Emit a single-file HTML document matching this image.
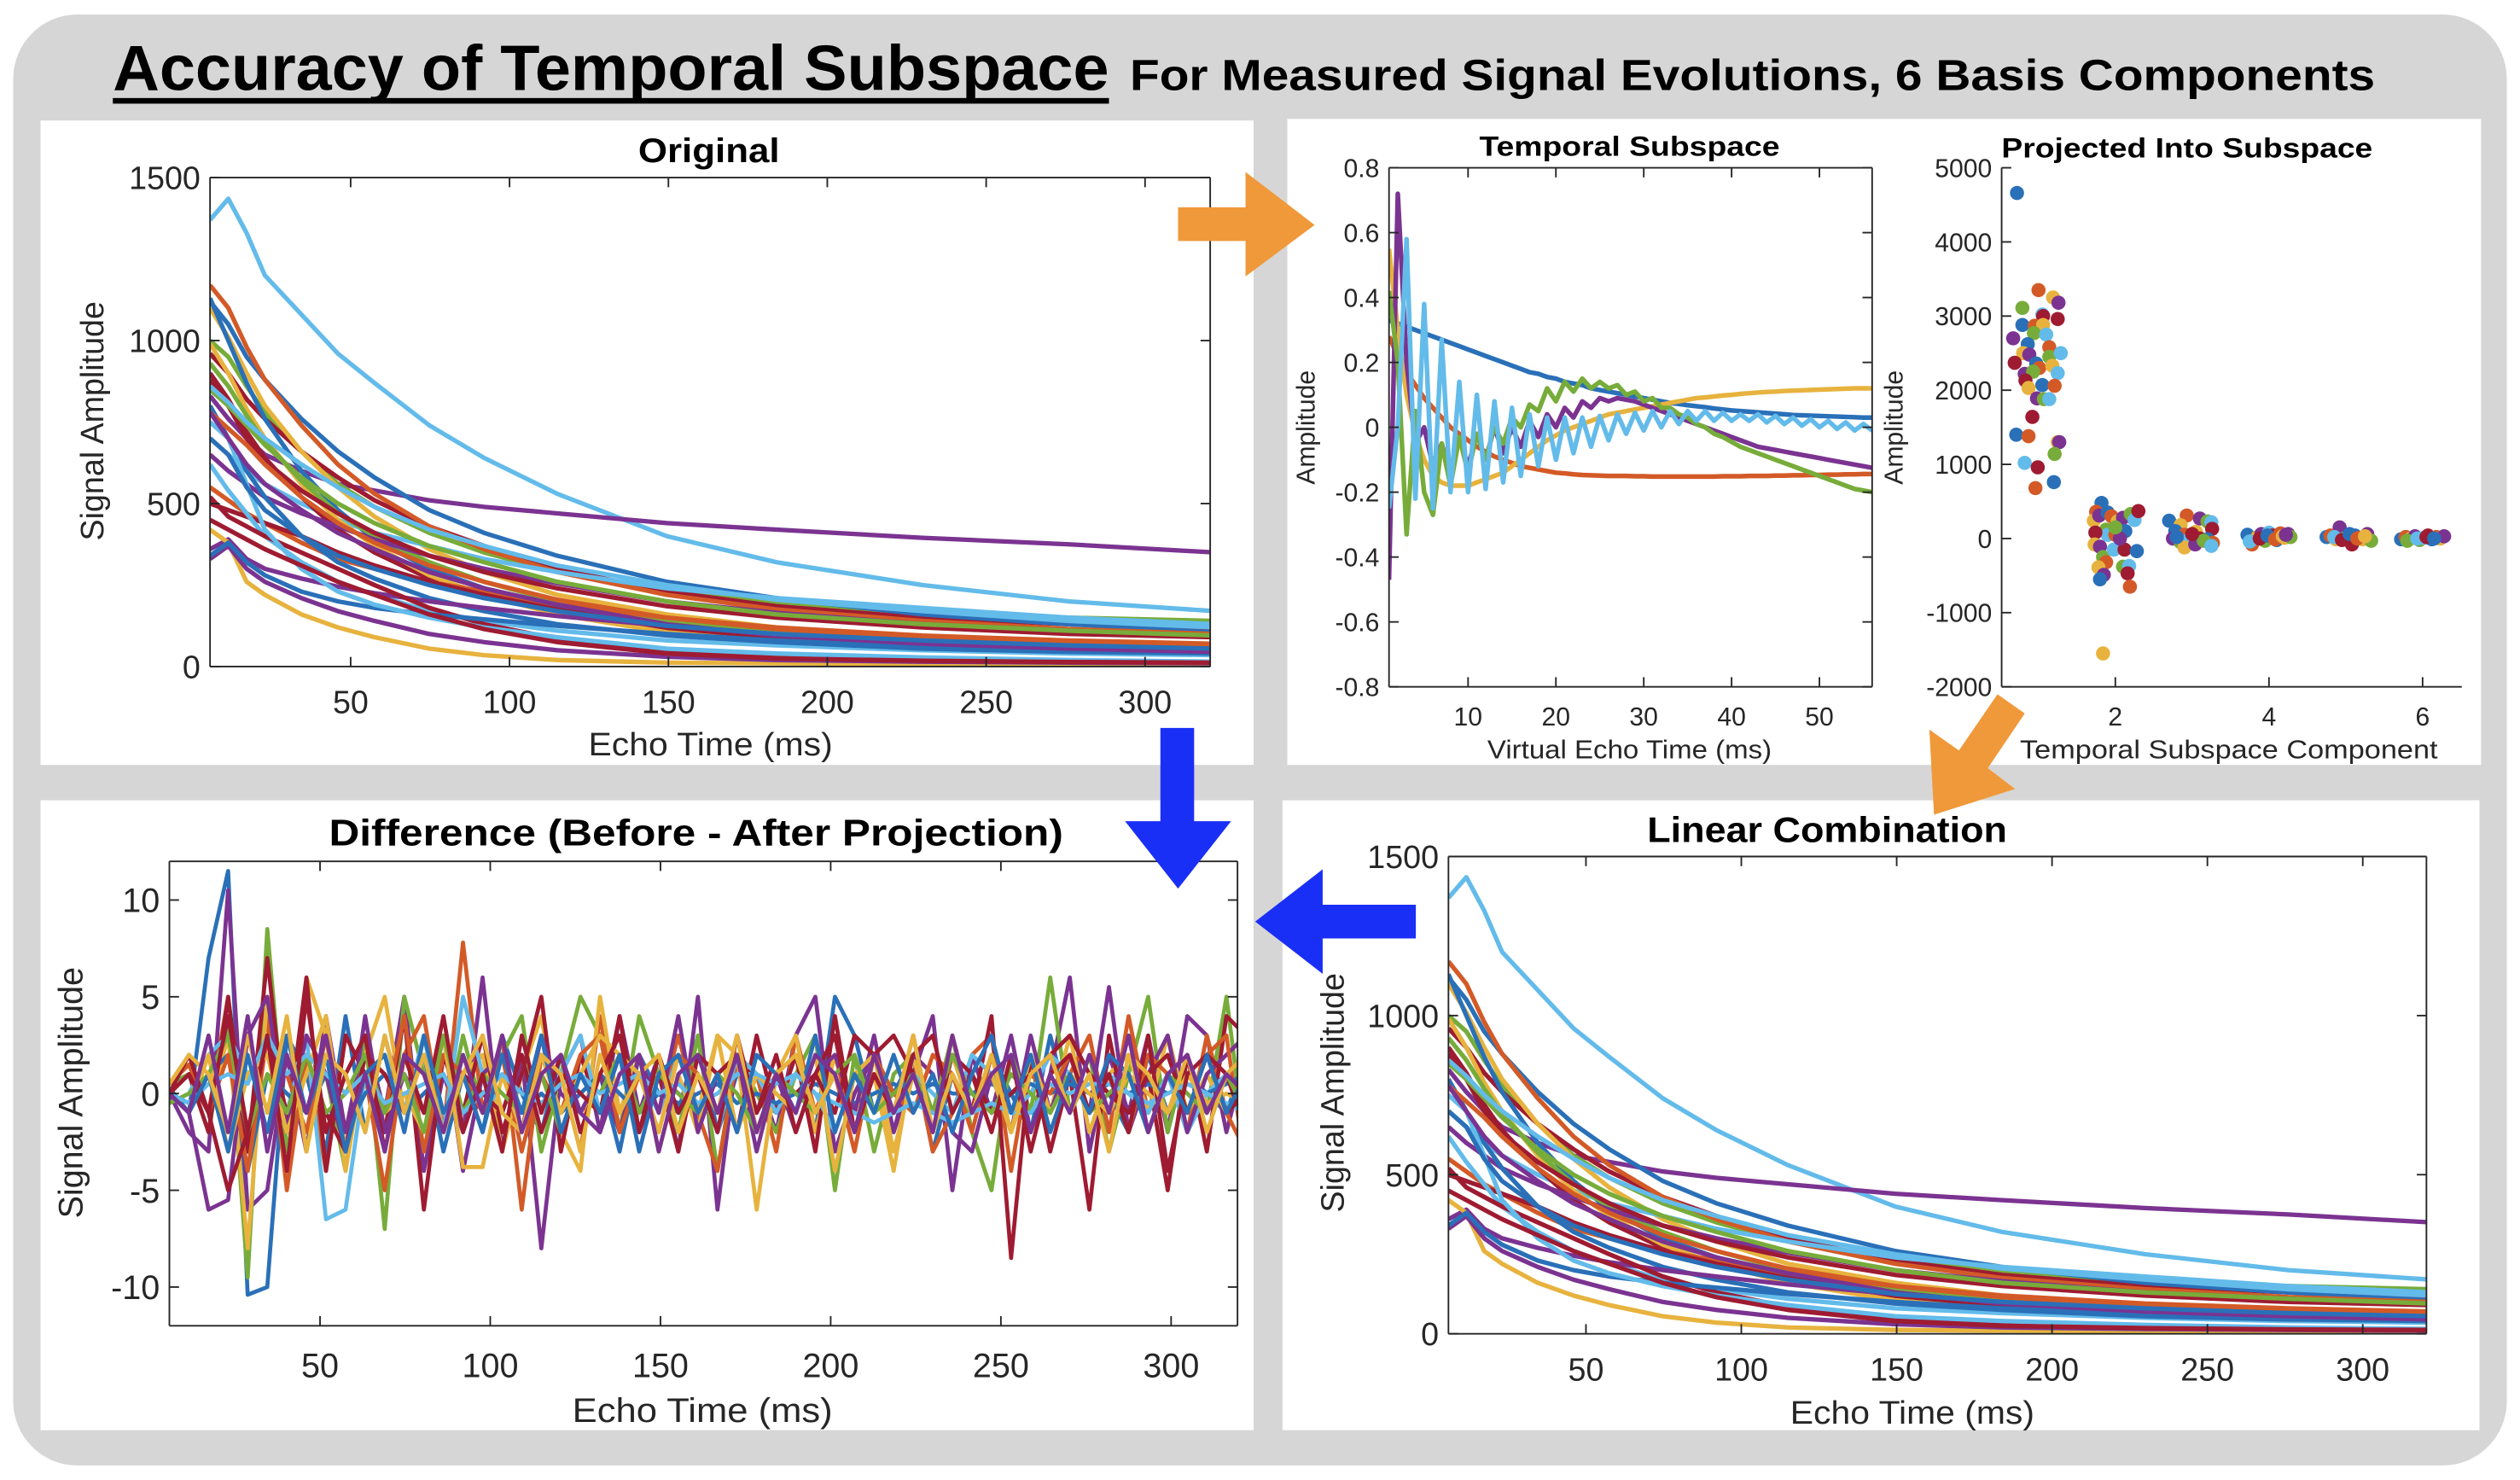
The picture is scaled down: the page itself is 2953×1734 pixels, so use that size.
<!DOCTYPE html>
<html><head><meta charset="utf-8"><title>Accuracy of Temporal Subspace</title>
<style>
html,body{margin:0;padding:0;background:#fff;}
svg{display:block;}
text{font-family:"Liberation Sans",sans-serif;}
</style></head>
<body>
<svg id="root" width="2953" height="1734" viewBox="0 0 1568 921" xmlns="http://www.w3.org/2000/svg">
<rect x="0" y="0" width="1568" height="921" fill="#fff"/>
<rect x="8" y="9" width="1552" height="903" rx="40" ry="40" fill="#d6d6d6"/>
<text x="70" y="56" font-size="40" font-weight="bold" textLength="620" lengthAdjust="spacingAndGlyphs" fill="#000">Accuracy of Temporal Subspace</text>
<rect x="70" y="61" width="620" height="3.5" fill="#000"/>
<text x="703" y="56" font-size="27" font-weight="bold" textLength="775" lengthAdjust="spacingAndGlyphs" fill="#000">For Measured Signal Evolutions, 6 Basis Components</text>
<rect x="25" y="75" width="755" height="401" fill="#fff"/>
<rect x="801" y="74" width="743" height="402" fill="#fff"/>
<rect x="25" y="498" width="755" height="392" fill="#fff"/>
<rect x="798" y="498" width="745" height="392" fill="#fff"/>
<g id="plots"></g>
<polygon points="733,129 775,129 775,107 818,140 775,172 775,150 733,150" fill="#f0993a"/>
<polygon points="1243,432 1260,444 1237,478 1254,491 1203.5,507 1200.6,454 1219,467" fill="#f0993a"/>
<polygon points="881,563 823,563 823,541 781,573.5 823,606 823,584 881,584" fill="#1a2ff5"/>
<polygon points="722,453 743,453 743,511 766,511 733,553 700,511 722,511" fill="#1a2ff5"/>
</svg>
<script>
// ---------- data ----------
const colorsM = ["#2a70b8","#d35a27","#e7b33e","#7b3391","#77ac3a","#63bbea","#9e1b31"];
const sampleTimes = [5.75,11.5,17.25,23,34.5,46,57.5,74.75,92,115,149.5,184,230,276,322];
const signalColors = [5,3,4,6,0,1,2,0,5,6,2,4,3,1,6,5,0,3,2,3,6,0,5,6,4,5,1,3,0,6];
const signals = [
[1370,1435,1330,1200,1080,960,870,740,640,530,400,320,250,200,170],
[830,760,700,650,600,560,540,510,490,470,440,420,395,375,350],
[1000,950,860,780,660,560,490,410,350,290,230,195,165,150,140],
[960,900,820,760,660,580,510,430,370,300,230,185,150,130,115],
[1120,1050,950,880,760,660,580,480,410,340,260,210,160,130,105],
[1170,1100,980,880,740,620,530,430,360,290,220,175,140,115,100],
[1100,1010,900,800,660,550,460,360,290,220,160,120,90,75,65],
[1130,1000,870,760,600,480,390,300,240,180,120,90,65,55,45],
[700,650,600,560,500,450,410,370,330,290,240,210,180,150,130],
[900,820,720,640,520,420,350,270,220,165,110,80,60,50,40],
[990,900,790,700,560,450,370,280,220,160,105,75,55,45,40],
[930,860,770,690,570,470,400,320,260,200,140,105,80,65,55],
[650,600,560,520,470,430,390,340,300,255,200,165,130,110,90],
[550,510,470,440,380,330,300,260,230,190,150,120,95,80,70],
[500,480,460,440,400,350,310,260,220,175,120,90,65,50,45],
[620,540,470,400,320,260,220,170,140,110,80,65,50,40,35],
[800,700,600,520,400,320,270,210,170,130,95,75,55,45,40],
[360,390,330,300,270,245,225,200,180,155,125,100,80,65,55],
[420,380,260,220,160,120,90,55,35,20,12,10,8,8,8],
[330,370,300,260,210,170,140,100,75,50,30,20,15,12,10],
[520,460,430,400,350,300,250,180,130,85,45,28,18,15,12],
[340,380,320,280,230,200,180,160,145,125,100,80,60,50,40],
[750,700,560,420,300,230,190,150,120,90,55,40,28,20,15],
[880,800,700,630,540,470,410,340,290,240,185,150,120,100,90],
[850,800,740,680,580,500,440,370,320,260,200,160,130,110,95],
[860,810,750,700,620,550,490,420,370,310,250,205,170,140,120],
[780,730,680,620,520,440,380,310,260,205,150,115,90,75,65],
[780,700,620,560,480,410,360,290,240,190,130,95,70,55,45],
[700,650,550,480,400,340,300,250,210,170,125,100,80,65,55],
[450,420,390,360,310,260,220,160,115,75,40,25,18,14,12]
];
const signalTicksX = [50,100,150,200,250,300];
const signalTicksY = [0,500,1000,1500];

const basisIndex = [1,2,3,4,5,6,7,8,9,10,11,12,13,14,15,16,17,18,19,20,21,22,23,24,25,26,27,28,29,30,31,32,33,34,35,36,37,38,39,40,41,42,43,44,45,46,47,48,49,50,51,52,53,54,55,56];
const basisBlue = [0.33,0.32,0.31,0.30,0.29,0.28,0.27,0.26,0.25,0.24,0.23,0.22,0.21,0.20,0.19,0.18,0.17,0.165,0.155,0.15,0.14,0.135,0.13,0.12,0.115,0.11,0.105,0.10,0.095,0.09,0.085,0.08,0.075,0.072,0.068,0.065,0.062,0.058,0.055,0.052,0.05,0.048,0.046,0.044,0.042,0.04,0.038,0.037,0.036,0.035,0.034,0.033,0.032,0.031,0.03,0.03];
const basisOrange = [0.28,0.22,0.17,0.13,0.09,0.06,0.03,0.0,-0.02,-0.04,-0.06,-0.075,-0.09,-0.10,-0.11,-0.12,-0.125,-0.13,-0.135,-0.14,-0.142,-0.145,-0.147,-0.148,-0.149,-0.15,-0.15,-0.15,-0.151,-0.151,-0.152,-0.152,-0.152,-0.152,-0.152,-0.152,-0.152,-0.152,-0.151,-0.151,-0.151,-0.15,-0.15,-0.15,-0.149,-0.149,-0.148,-0.148,-0.147,-0.147,-0.146,-0.146,-0.145,-0.145,-0.144,-0.144];
const basisYellow = [0.55,0.3,0.1,-0.02,-0.1,-0.15,-0.17,-0.18,-0.18,-0.18,-0.17,-0.16,-0.15,-0.14,-0.12,-0.1,-0.08,-0.06,-0.04,-0.025,-0.01,0.0,0.01,0.02,0.03,0.04,0.045,0.05,0.055,0.06,0.065,0.07,0.075,0.08,0.085,0.09,0.092,0.095,0.098,0.1,0.103,0.105,0.107,0.109,0.11,0.112,0.113,0.114,0.115,0.116,0.117,0.118,0.119,0.12,0.12,0.12];
const basisPurple = [-0.47,0.72,0.2,-0.05,0.0,-0.12,-0.05,-0.15,-0.03,-0.12,-0.02,-0.1,0.0,-0.08,0.0,-0.06,0.02,-0.03,0.04,0.0,0.06,0.03,0.08,0.06,0.09,0.08,0.09,0.085,0.08,0.07,0.06,0.05,0.04,0.03,0.02,0.01,0.0,-0.01,-0.02,-0.03,-0.04,-0.05,-0.06,-0.065,-0.07,-0.075,-0.08,-0.085,-0.09,-0.095,-0.1,-0.105,-0.11,-0.115,-0.12,-0.125];
const basisGreen = [0.42,0.2,-0.33,0.05,-0.2,-0.27,-0.05,-0.18,-0.03,-0.14,-0.02,-0.1,0.0,-0.05,0.03,0.0,0.07,0.05,0.12,0.08,0.14,0.11,0.15,0.12,0.14,0.12,0.13,0.1,0.11,0.08,0.09,0.06,0.06,0.04,0.03,0.01,0.0,-0.02,-0.03,-0.045,-0.06,-0.07,-0.08,-0.09,-0.1,-0.11,-0.12,-0.13,-0.14,-0.15,-0.16,-0.17,-0.18,-0.19,-0.195,-0.2];
const basisLightBlue = [-0.25,0.0,0.58,-0.22,0.38,-0.25,0.27,-0.2,0.14,-0.2,0.1,-0.19,0.08,-0.17,0.06,-0.15,0.04,-0.12,0.03,-0.1,0.03,-0.08,0.03,-0.06,0.035,-0.04,0.04,-0.02,0.045,-0.01,0.05,0.0,0.05,0.01,0.05,0.02,0.05,0.02,0.045,0.02,0.04,0.02,0.04,0.015,0.035,0.01,0.03,0.005,0.025,0.0,0.02,-0.005,0.015,-0.01,0.01,-0.01];
const basisTicksX = [10,20,30,40,50];
const basisTicksY = [-0.8,-0.6,-0.4,-0.2,0,0.2,0.4,0.6,0.8];

const comp1X = [0.72,1.0,1.19,1.26,0.79,1.05,1.06,0.79,0.95,1.06,0.67,0.94,1.1,1.25,0.86,1.14,0.8,0.88,1.14,1.29,0.69,0.97,1.01,1.18,0.82,0.93,1.25,0.83,1.05,1.21,0.87,0.98,1.07,1.14,0.92,0.71,0.87,1.25,1.27,1.21,0.82,0.99,1.2,0.96];
const comp1Y = [4660,3350,3250,3180,3110,3020,3000,2880,2870,2880,2700,2770,2750,2960,2620,2580,2500,2480,2450,2500,2370,2360,2300,2330,2220,2250,2230,2130,2070,2060,2030,1890,1880,1880,1640,1400,1380,1300,1300,1140,1020,960,760,680];
const comp2X = [1.82,1.75,1.72,1.79,1.88,1.9,1.74,1.9,1.95,2.03,2.1,2.2,2.25,2.3,2.13,2.0,1.73,1.8,1.84,1.98,2.12,2.28,1.88,1.78,1.85,2.1,2.18,2.16,1.8,2.19,1.84,2.06,2.0];
const comp2Y = [480,360,240,310,120,50,80,350,300,230,280,330,250,370,100,50,-80,-110,-250,-150,-150,-170,-320,-390,-490,-380,-370,-470,-550,-650,-1550,0,150];
const comp3X = [2.7,2.93,2.85,3.1,3.2,3.25,3.26,2.78,2.9,3.05,2.75,2.85,2.95,3.1,3.2,3.27,2.9,3.04,3.15,3.25,3.0,2.8];
const comp3Y = [240,310,180,270,230,220,130,100,50,90,0,-50,-20,0,-10,-60,-120,-80,-30,-100,60,20];
const comp4X = [3.72,3.78,3.85,3.9,3.95,4.0,4.05,4.1,4.15,4.2,4.25,4.28,3.75,3.88,3.98,4.08,4.18,4.22];
const comp4Y = [50,-80,20,60,-30,80,40,-20,70,10,60,20,-40,0,40,-10,30,50];
const comp5X = [4.75,4.8,4.87,4.92,4.98,5.03,5.08,5.12,5.18,5.22,5.28,5.33,4.85,4.95,5.05,5.15,5.25];
const comp5Y = [20,40,-10,150,0,30,-80,40,10,-10,60,-30,20,-20,60,0,30];
const comp6X = [5.72,5.78,5.85,5.9,5.96,6.02,6.07,6.12,6.18,6.23,6.28,5.8,5.93,6.05,6.15];
const comp6Y = [-10,20,0,30,-20,10,40,-10,20,0,30,-30,0,20,0];
const scatTicksX = [2,4,6];
const scatTicksY = [-2000,-1000,0,1000,2000,3000,4000,5000];

const echoTimes = [5.75,11.5,17.25,23,28.75,34.5,40.25,46,51.75,57.5,63.25,69,74.75,80.5,86.25,92,97.75,103.5,109.25,115,120.75,126.5,132.25,138,143.75,149.5,155.25,161,166.75,172.5,178.25,184,189.75,195.5,201.25,207,212.75,218.5,224.25,230,235.75,241.5,247.25,253,258.75,264.5,270.25,276,281.75,287.5,293.25,299,304.75,310.5,316.25,322];
const diffColors = [0,3,4,1,2,6,5,0,3,1,2,6,4,5,6,0,2,3];
const diffs = [
[0.3,-1,7,11.5,-10.4,-10,3,1,-3,4,-2,3,-1,2,-3,1,-2,3,0,-2,2,-1,1,-3,2,0,-1,3,-2,1,0,-1,2,-2,5,3,-1,0,2,-3,1,-1,2,0,-2,3,-1,1,0,-2,2,-1,1,0,-1,2],
[0,-2,-3,10.5,-6,-5,2,-3,4,-2,3,-1,5,-4,1,-2,6,-3,2,-8,1,3,-2,4,-1,2,-3,5,-6,2,1,-2,3,5,-3,0,2,-2,1,4,-5,2,-1,3,-2,1,6,-3,2,-1,3,-2,4,3,-2,2],
[0.5,1,-2,4,-9.5,8.5,-3,2,1,-4,3,-7,5,1,-2,3,-1,2,4,-3,1,5,3,-2,4,1,-2,3,-4,2,0,-2,1,3,-5,2,-3,1,2,-1,3,-2,-5,2,-1,6,-1,2,-3,1,5,-2,2,-1,5,-3],
[0,1,-1,5,-3,4,-5,2,-4,3,1,-5,2,4,-2,7.8,-1,3,-6,2,1,-3,4,-2,2,-1,3,-1,-4,2,1,-3,3,-1,2,-2,1,-1,2,-3,-1,2,3,-4,2,-1,1,3,-2,4,-1,1,-2,3,-1,-3],
[0.5,1.5,-1,3,-8,5,-2,6,3,-4,2,5,-1,3,-2,1,2,-3,1,4,-2,-4,5,-1,2,-3,1,-2,3,2,-6,1,3,-2,2,-1,1,-4,2,-2,3,-1,1,-2,2,-1,3,-2,1,2,-1,3,-1,1,-1,1],
[0,1,-2,5,-3,7,-2,6,-4,3,1,-2,4,-6,2,-1,3,-2,1,5,-3,2,-1,4,-2,1,-3,2,1,-2,3,-1,2,-3,4,-2,1,-1,3,-2,2,-1,4,-8.5,2,-3,1,-6,3,-2,1,-5,2,-3,4,3],
[-0.5,0,2,3,1,2,-1,3,-6.5,-6,1,2,-1,3,-2,5,1,-1,2,-2,1,3,-1,2,1,-1,2,1,-2,2,1,-1,1,0,-2,1,2,-1,1,0,-1,2,1,-1,0,2,1,-1,1,0,-1,1,-2,0,1,-1],
[0,-0.5,1,2,-4,1,0,-1,1,-2,0,1,-1,0,1,-1,0,1,-1,0,-1,0,1,0,-1,0,-0.5,0,0.5,-0.5,0,-0.5,0,0.5,0,-0.5,0,0.5,0,0.5,0,0,0.5,0,0.5,0,0.5,0,0.5,0,0.5,0,0.5,0,0.5,1],
[0,-1,-6,-5.5,3,5,-2,3,1,-3,4,-2,1,-1,3,-4,1,2,-2,3,0,-1,1,-2,2,-1,4,-2,1,2,-3,1,-2,1,2,-1,3,-2,2,1,-2,-3,1,-2,3,-1,2,-1,5.5,-2,1,3,-2,1,2,3],
[0.5,1.5,-1,2,-4,3,1,-2,3,-3,2,-1,4,-3,2,1,-1,2,-3,1,-1,2,3,-2,1,-2,2,1,-1,3,-2,1,2,-1,1,-3,2,0,-1,2,1,-2,2,-1,1,0,2,-1,1,-2,2,1,-1,2,3,-4],
[0,-1,2,-3,1,2,-2,1,4,-3,2,-1,0,-2,3,-3.8,-3.8,1,-2,2,-1,1,3,2,1,-2,2,-1,3,-2,1,0,-1,2,-4,1,2,-3,1,-1,2,-1,1,-2,2,-1,1,0,-1,1,0,-1,1,-0.5,0,-0.5],
[0,1,-1,-5,-2,3,-1,2,-1,-3,2,1,-1,2,-2,1,0,-1,2,-2,1,0,-1,2,-2,1,0,-1,1,2,-1,1,0,1,-1,3,2,3,1,-1,2,1,-1,0,1,2,3,1,0,-1,1,2,-1,2,1,-2],
[-0.5,0,1,3,-2,1,-1,2,-1,0,2,-1,1,-2,3,-1,1,0,-1,1,-2,1,0,2,-1,1,0,-1,1,0,-2,1,0,-1,1,2,-1,0,1,-1,2,0,-1,1,0,-1,1,-1,0,1,-2,1,0,-1,1,-1],
[0,-0.5,0.5,1,0.5,3,1,2,1,0,1,-0.5,0,0.5,1,-1,0,1,0,-0.5,0.5,1,0,0.5,1,0,0.5,-0.5,0,1,1,0.5,1,0,-0.5,-1,-1.5,-1,-0.5,-1,-1.5,-1,-0.5,-1,-1,0.5,0,0.5,0.5,0,-0.5,0,0.5,0,-0.5,-1],
[0,2,-1,4,-2,3,-4,5,-2,1,3,-3,2,-1,4,-2,1,-3,3,-1,2,-2,1,3,-2,2,-1,1,-2,3,-1,2,-2,1,3,-2,1,-1,2,3,-1,1,-2,2,-3,1,2,-1,1,-2,3,-4,1,2,-1,0],
[0,-1,1,-3,2,-2,3,-1,2,-3,1,2,-2,3,-1,1,-2,2,-1,3,-2,1,-1,2,-3,1,2,-1,1,-2,2,1,-1,3,-2,1,-1,2,-1,1,-2,1,3,-1,2,-2,1,-1,2,1,-2,1,-1,2,-1,1],
[0.5,2,1,-2,3,-1,4,-3,2,1,-2,3,-1,2,-2,1,3,-1,-2,2,1,-3,2,-1,1,2,-2,1,-1,3,-2,1,2,-1,1,-2,2,-1,3,-2,1,-1,2,-2,1,2,-1,1,-3,2,1,-1,2,-2,1,2],
[0,-1,3,-2,4,-3,2,-1,3,-2,1,-3,2,1,-2,2,-1,3,-2,1,2,-1,-2,1,2,-3,1,2,-1,2,-2,1,-1,2,1,-2,2,-1,1,-2,3,-1,1,2,-2,1,-1,2,-1,3,-2,1,2,-1,1,0]
];
const diffTicksY = [-10,-5,0,5,10];

// ---------- helpers ----------
const NS = "http://www.w3.org/2000/svg";
const plots = document.getElementById("plots");
let clipId = 0;
function mk(tag, attrs, parent){
  const e = document.createElementNS(NS, tag);
  for (const k in attrs) e.setAttribute(k, attrs[k]);
  (parent||plots).appendChild(e);
  return e;
}
function makeAxes(cfg){
  const g = mk("g", {});
  
  
  const sx = v => cfg.L + (v - cfg.xd[0]) / (cfg.xd[1] - cfg.xd[0]) * (cfg.R - cfg.L);
  const sy = v => cfg.B - (v - cfg.yd[0]) / (cfg.yd[1] - cfg.yd[0]) * (cfg.B - cfg.T);
  const id = "clip" + (clipId++);
  const cp = mk("clipPath", {id: id}, g);
  mk("rect", {x: cfg.L, y: cfg.T, width: cfg.R - cfg.L, height: cfg.B - cfg.T}, cp);
  const data = mk("g", {"clip-path": "url(#" + id + ")"}, g);
  
  
  return {g, data, sx, sy, cfg};
}
function drawFrame(ax, xticks, yticks, fmtY, fs){
  const c = ax.cfg, g = ax.g, col = "#262626";
  const fr = mk("g", {stroke: col, "stroke-width": 1, fill: "none"}, g);
  
  
  mk("line", {x1: c.L, y1: c.B, x2: c.R, y2: c.B}, fr);
  mk("line", {x1: c.L, y1: c.T, x2: c.L, y2: c.B}, fr);
  if (c.box){
    mk("line", {x1: c.L, y1: c.T, x2: c.R, y2: c.T}, fr);
    mk("line", {x1: c.R, y1: c.T, x2: c.R, y2: c.B}, fr);
  }
  const tl = 6;
  xticks.forEach(v => {
    const x = ax.sx(v);
    mk("line", {x1: x, y1: c.B, x2: x, y2: c.B - tl}, fr);
    if (c.box) mk("line", {x1: x, y1: c.T, x2: x, y2: c.T + tl}, fr);
    const t = mk("text", {x: x, y: c.B + c.xlo, "text-anchor": "middle", "font-size": fs, fill: col}, g);
    
    
    t.textContent = String(v);
  });
  yticks.forEach(v => {
    const y = ax.sy(v);
    mk("line", {x1: c.L, y1: y, x2: c.L + tl, y2: y}, fr);
    if (c.box) mk("line", {x1: c.R, y1: y, x2: c.R - tl, y2: y}, fr);
    const t = mk("text", {x: c.L - 6, y: y + fs*0.36, "text-anchor": "end", "font-size": fs, fill: col}, g);
    
    
    t.textContent = fmtY(v);
  });
}
function label(txt, x, y, fs, name, opts){
  opts = opts || {};
  const a = {x: x, y: y, "text-anchor": "middle", "font-size": fs, fill: opts.fill || "#262626"};
  if (opts.bold) a["font-weight"] = "bold";
  if (opts.rot) a.transform = "rotate(-90 " + x + " " + y + ")";
  if (opts.len){ a.textLength = opts.len; a.lengthAdjust = "spacingAndGlyphs"; }
  const t = mk("text", a);
  
  
  t.textContent = txt;
}
function poly(ax, xs, ys, color, w){
  const pts = xs.map((x,i) => ax.sx(x).toFixed(2) + "," + ax.sy(ys[i]).toFixed(2)).join(" ");
  return mk("polyline", {points: pts, fill: "none", stroke: color, "stroke-width": w, "stroke-linejoin": "round"}, ax.data);
}

// ---------- Original ----------
function signalPlot(name, L, R, T, B){
  const ax = makeAxes({name: name, L: L, R: R, T: T, B: B, xd: [5.75, 320.5], yd: [0, 1500], box: true, xlo: 29});
  signals.forEach((s, i) => {
    const p = poly(ax, sampleTimes, s, colorsM[signalColors[i]], 2.8);
    
    
  });
  drawFrame(ax, signalTicksX, signalTicksY, v => String(v), 20);
  return ax;
}
signalPlot("original-chart", 130.5, 753, 110.5, 414.8);
label("Original", 441, 101, 21, "original-title", {bold: true, fill: "#000", len: 88});
label("Signal Amplitude", 64, 262, 20, "original-y-axis-title", {rot: true});
label("Echo Time (ms)", 442, 470, 20, "original-x-axis-title", {len: 152});

// ---------- Temporal subspace ----------
(function(){
  const ax = makeAxes({name: "temporal-subspace-chart", L: 864.3, R: 1165, T: 104.4, B: 427.4, xd: [1, 56], yd: [-0.8, 0.8], box: true, xlo: 24});
  const series = [[basisBlue,0],[basisOrange,1],[basisYellow,2],[basisPurple,3],[basisGreen,4],[basisLightBlue,5]];
  series.forEach(s => {
    const p = poly(ax, basisIndex, s[0], colorsM[s[1]], 2.9);
    
    
  });
  drawFrame(ax, basisTicksX, basisTicksY, v => v === 0 ? "0" : v.toFixed(1), 16);
})();
label("Temporal Subspace", 1014, 97, 17, "temporal-subspace-title", {bold: true, fill: "#000", len: 187});
label("Amplitude", 818, 266, 16, "temporal-y-axis-title", {rot: true});
label("Virtual Echo Time (ms)", 1014, 472, 16, "temporal-x-axis-title", {len: 177});

// ---------- Projected scatter ----------
(function(){
  const ax = makeAxes({name: "projected-scatter-chart", L: 1245.6, R: 1532, T: 104.4, B: 427.4, xd: [0.52, 6.51], yd: [-2000, 5000], box: false, xlo: 24});
  const comps = [[comp1X,comp1Y],[comp2X,comp2Y],[comp3X,comp3Y],[comp4X,comp4Y],[comp5X,comp5Y],[comp6X,comp6Y]];
  comps.forEach(cp => {
    cp[0].forEach((x, i) => {
      const c = mk("circle", {cx: ax.sx(x), cy: ax.sy(cp[1][i]), r: 4.4, fill: colorsM[i % 7]}, ax.data);
      
      
    });
  });
  drawFrame(ax, scatTicksX, scatTicksY, v => String(v), 16);
})();
label("Projected Into Subspace", 1361, 98, 17, "projected-title", {bold: true, fill: "#000", len: 231});
label("Amplitude", 1184, 266, 16, "projected-y-axis-title", {rot: true});
label("Temporal Subspace Component", 1387, 472, 16, "projected-x-axis-title", {len: 260});

// ---------- Difference ----------
(function(){
  const ax = makeAxes({name: "difference-chart", L: 105.2, R: 770, T: 536, B: 825, xd: [5.75, 319.5], yd: [-12, 12], box: true, xlo: 32});
  diffs.forEach((d, i) => {
    const p = poly(ax, echoTimes, d, colorsM[diffColors[i]], 2.5);
    
    
  });
  drawFrame(ax, signalTicksX, diffTicksY, v => String(v), 21);
})();
label("Difference (Before - After Projection)", 433, 526, 23, "difference-title", {bold: true, fill: "#000", len: 457});
label("Signal Amplitude", 51, 680, 21, "difference-y-axis-title", {rot: true});
label("Echo Time (ms)", 437, 885, 21, "difference-x-axis-title", {len: 162});

// ---------- Linear combination ----------
signalPlot("linear-combination-chart", 901.3, 1510, 533, 830);
label("Linear Combination", 1137, 524, 22, "linear-combination-title", {bold: true, fill: "#000", len: 224});
label("Signal Amplitude", 836, 680, 20, "linear-y-axis-title", {rot: true});
label("Echo Time (ms)", 1190, 886, 20, "linear-x-axis-title", {len: 152});
</script>
</body></html>
